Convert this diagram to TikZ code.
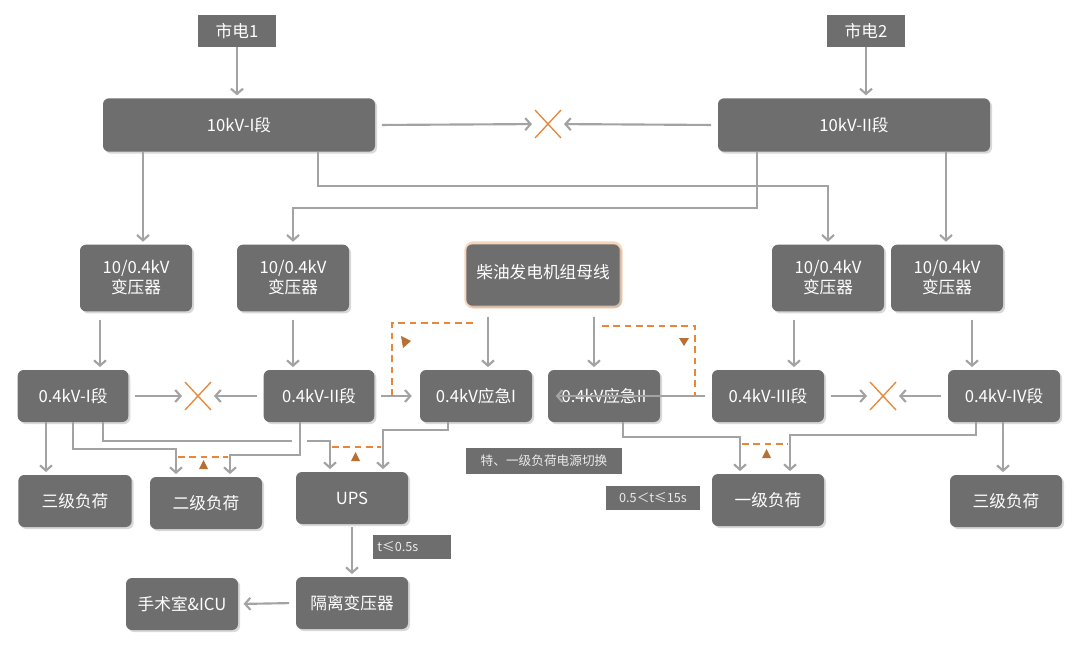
\documentclass[tikz,border=0pt]{standalone}
\usepackage{fontspec}
\setmainfont{Noto Sans CJK SC}
\usetikzlibrary{arrows.meta,shadows,calc}
\definecolor{boxg}{HTML}{6E6E6E}
\definecolor{lineg}{HTML}{A3A3A3}
\definecolor{org}{HTML}{E8873A}
\definecolor{tri}{HTML}{B86F35}
\begin{document}
\begin{tikzpicture}[x=0.75pt,y=-0.75pt,
  box/.style={fill=boxg,text=white,rounded corners=4.5pt,minimum width=84pt,minimum height=39pt,inner sep=1pt,align=center,font=\fontsize{12.5}{15}\selectfont,drop shadow={opacity=0.3,shadow xshift=1.5pt,shadow yshift=-1.5pt}},
  sq/.style={fill=boxg,text=white,inner sep=1pt,font=\fontsize{12.5}{15}\selectfont},
  lbl/.style={fill=boxg,text=white!92!black,inner sep=1pt,font=\fontsize{9.5}{11}\selectfont},
  conn/.style={draw=lineg,line width=1.6pt,-{Straight Barb[length=4pt,width=9pt]},shorten >=2pt},
  plain/.style={draw=lineg,line width=1.6pt},
  dsh/.style={draw=org,line width=1.6pt,dash pattern=on 5pt off 3.5pt},
  cross/.style={draw=org,line width=1pt},
  tri/.style={fill=tri,draw=none}]
\useasboundingbox (0,0) rectangle (1080,649);
\fill[white] (0,0) rectangle (1080,649);
% top
\node[sq,minimum width=58pt,minimum height=24pt] (s1) at (237,31) {市电1};
\node[sq,minimum width=58pt,minimum height=24pt] (s2) at (866,31) {市电2};
\node[box,minimum width=204pt,minimum height=40pt] (b1) at (239,125) {10kV-I段};
\node[box,minimum width=204pt,minimum height=40pt] (b2) at (854,125) {10kV-II段};
\coordinate (x1) at (548,124);
\coordinate (x2) at (198,396);
\coordinate (x3) at (883,396);
\foreach \c in {x1,x2,x3}{
  \draw[cross] ($(\c)+(-13,-14)$) -- ($(\c)+(13,14)$);
  \draw[cross] ($(\c)+(-13,14)$) -- ($(\c)+(13,-14)$);}
% transformers
\node[box,minimum height=50pt] (t1) at (136,278) {10/0.4kV\\变压器};
\node[box,minimum height=50pt] (t2) at (293,278) {10/0.4kV\\变压器};
\node[box,minimum height=50pt] (t3) at (828,278) {10/0.4kV\\变压器};
\node[box,minimum height=50pt] (t4) at (947,278) {10/0.4kV\\变压器};
\draw[org!35,line width=4pt,rounded corners=5pt] (467,244) rectangle (620,306);
\node[box,minimum width=115pt,minimum height=46pt,text depth=6pt] (cy) at (543,275) {柴油发电机组母线};
% 0.4 row
\node[box,minimum width=83pt] (l1) at (73,396) {0.4kV-I段};
\node[box,minimum width=83pt] (l2) at (319,396) {0.4kV-II段};
\node[box] (e1) at (476,396) {0.4kV应急I};
\node[box] (e2) at (604,396) {0.4kV应急II};
\node[box] (l3) at (768,396) {0.4kV-III段};
\node[box] (l4) at (1004,396) {0.4kV-IV段};
% loads
\node[box,minimum width=85pt] (q3a) at (75,501) {三级负荷};
\node[box] (q2) at (206,503) {二级负荷};
\node[box] (ups) at (352,498) {UPS};
\node[box] (q1) at (768,500) {一级负荷};
\node[box] (q3b) at (1006,501) {三级负荷};
\node[box] (iso) at (352,603) {隔离变压器};
\node[box] (icu) at (182,604) {手术室\&ICU};
\node[lbl,minimum width=117pt,minimum height=19pt] (lb1) at (544,461) {特、一级负荷电源切换};
\node[lbl,minimum width=70pt,minimum height=18pt] (lb2) at (653,498) {0.5＜t≤15s};
\node[lbl,minimum width=58pt,minimum height=18pt,text width=52pt,align=left] (lb3) at (412,547) {t≤0.5s};
% helper coordinates
\coordinate (j1) at (318,186);
\coordinate (j2) at (757,208);
\coordinate (c143) at (143,0);
\coordinate (c946) at (946,0);
\coordinate (c100) at (100,0);
\coordinate (c794) at (794,0);
\coordinate (c972) at (972,0);
\coordinate (c488) at (488,0);
\coordinate (c594) at (594,0);
% top connectors
\draw[conn] (s1.south) -- (s1.south |- b1.north);
\draw[conn] (s2.south) -- (s2.south |- b2.north);
\draw[conn,shorten <=5pt,shorten >=12pt] (b1.east) -- (x1);
\draw[conn,shorten <=5pt,shorten >=12pt] (b2.west) -- (x1);
\draw[conn] (b1.south -| c143) -- (t1.north -| c143);
\draw[conn] (b1.south -| j1) -- (j1) -| (t3.north);
\draw[conn] (b2.south -| j2) -- (j2) -| (t2.north);
\draw[conn] (b2.south -| c946) -- (t4.north -| c946);
\draw[conn,shorten <=6pt] (t1.south -| c100) -- (l1.north -| c100);
\draw[conn,shorten <=6pt] (t2.south) -- (l2.north -| t2);
\draw[conn,shorten <=6pt] (t3.south -| c794) -- (l3.north -| c794);
\draw[conn,shorten <=6pt] (t4.south -| c972) -- (l4.north -| c972);
\draw[conn,shorten <=8pt] (cy.south -| c488) -- (e1.north -| c488);
\draw[conn,shorten <=8pt] (cy.south -| c594) -- (e2.north -| c594);
% horizontal row
\draw[conn,shorten <=5pt,shorten >=12pt] (l1.east) -- (x2);
\draw[conn,shorten <=5pt,shorten >=12pt] (l2.west) -- (x2);
\draw[conn,shorten <=5pt,shorten >=6pt] (l2.east) -- (e1.west);
\draw[conn,shorten <=5pt,shorten >=6pt] (l3.west) -- (e2.west);
\draw[conn,shorten <=5pt,shorten >=12pt] (l3.east) -- (x3);
\draw[conn,shorten <=5pt,shorten >=12pt] (l4.west) -- (x3);
% dashed generator links
\coordinate (d1) at (392,323);
\coordinate (d2) at (695,326);
\draw[dsh] (cy.south west |- d1) ++(7,0) -- (d1) -- (d1 |- l2.east);
\draw[dsh] (cy.south east |- d2) ++(-18,0) -- (d2) -- (d2 |- e2.east);
\fill[tri] (401,336) -- (411,341) -- (403,348) -- cycle;
\fill[tri] (679,338) -- (689,338) -- (684,346) -- cycle;
% lower connectors
\coordinate (k1) at (73,449);
\coordinate (k2) at (103,441);
\coordinate (k3) at (300,455);
\coordinate (k4) at (448,430);
\coordinate (k5) at (623,437);
\coordinate (k6) at (976,435);
\coordinate (u1) at (330,0);
\coordinate (u2) at (383,0);
\coordinate (g1) at (176,0);
\coordinate (g2) at (230,0);
\coordinate (f1) at (740,0);
\coordinate (f2) at (790,0);
\coordinate (c46) at (46,0);
\coordinate (c1003) at (1003,0);
\draw[conn] (l1.south -| c46) -- (q3a.north -| c46);
\draw[conn] (l1.south -| k1) -- (k1) -| (q2.north -| g1);
\draw[plain] (l1.south -| k2) -- (k2) -- ++(189,0);
\draw[conn] (307,441) -| (ups.north -| u1);
\draw[conn] (l2.south -| k3) -- (k3) -| (q2.north -| g2);
\draw[conn] (e1.south -| k4) -- (k4) -| (ups.north -| u2);
\draw[conn] (e2.south -| k5) -- (k5) -| (q1.north -| f1);
\draw[conn] (l4.south -| k6) -- (k6) -| (q1.north -| f2);
\draw[conn] (l4.south -| c1003) -- (q3b.north -| c1003);
\draw[dsh] (178,457) -- (228,457);
\draw[dsh] (332,447) -- (381,447);
\draw[dsh] (742,444) -- (788,444);
\fill[tri] (199,469) -- (208,469) -- (203.5,460) -- cycle;
\fill[tri] (351,461) -- (360,461) -- (355.5,452) -- cycle;
\fill[tri] (762,458) -- (771,458) -- (766.5,449) -- cycle;
\draw[conn,shorten <=2pt] (ups.south) -- (iso.north);
\draw[conn,shorten <=5pt,shorten >=4pt] (iso.west) -- (icu.east);
\end{tikzpicture}
\end{document}
